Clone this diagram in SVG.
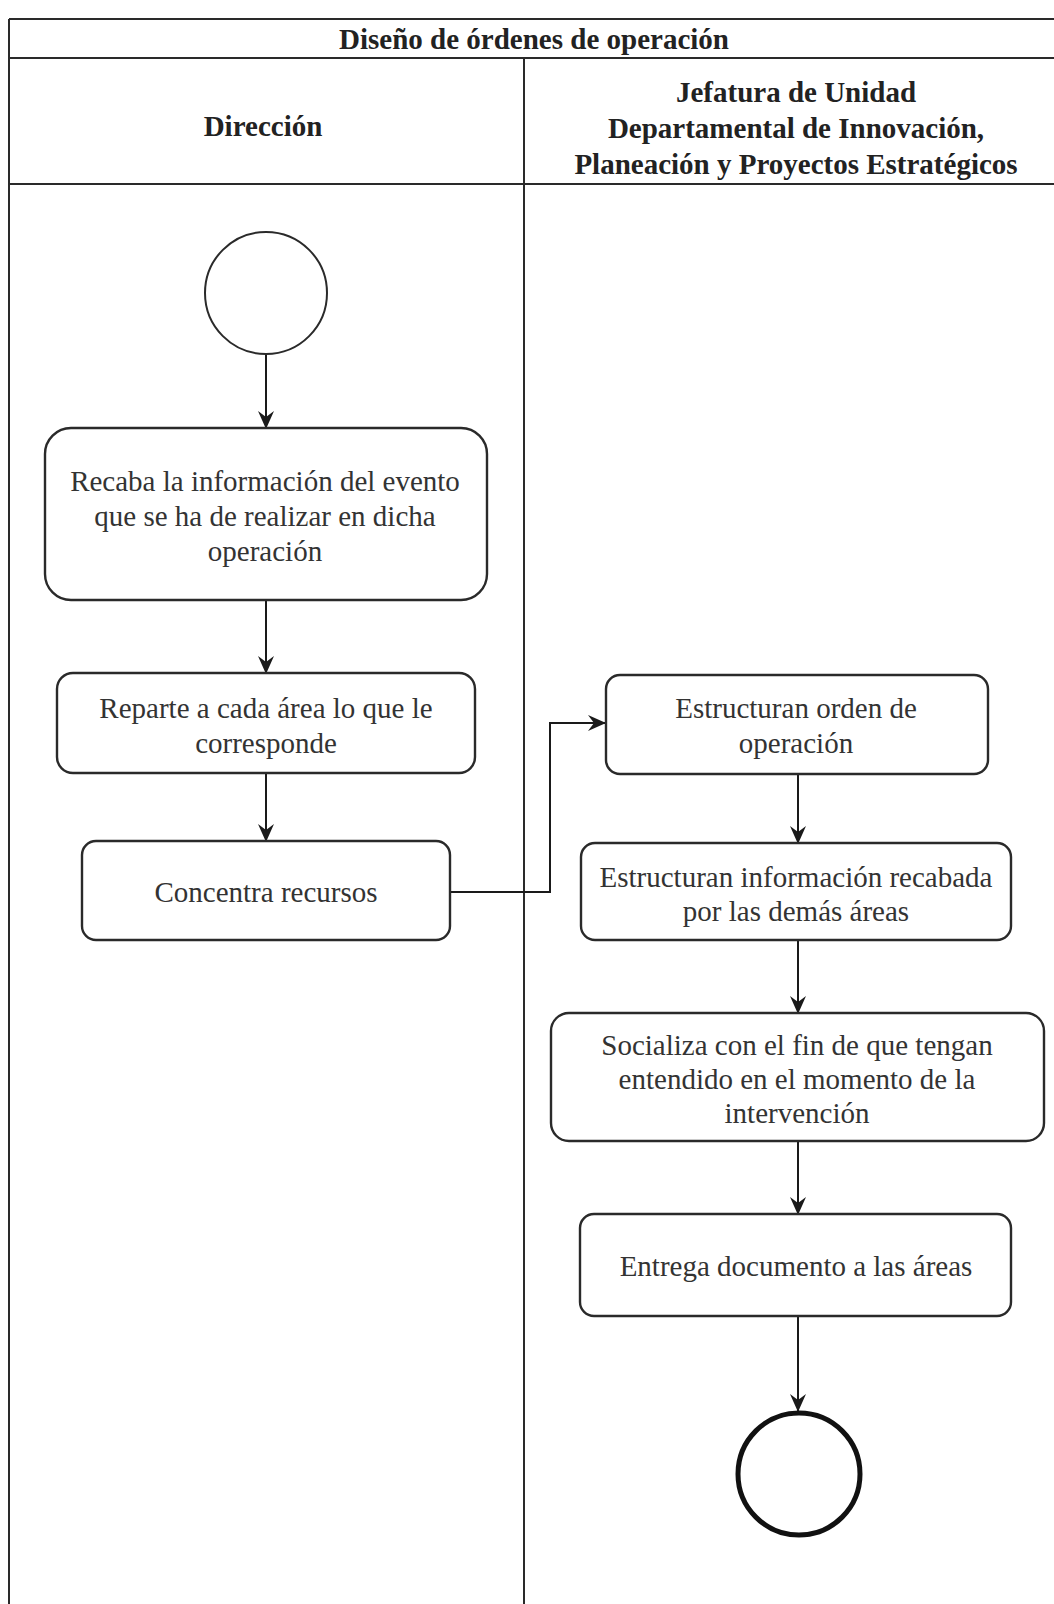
<svg xmlns="http://www.w3.org/2000/svg" width="1054" height="1604" viewBox="0 0 1054 1604">
<defs>
<marker id="ah" viewBox="0 0 18 18" refX="17" refY="9" markerWidth="18" markerHeight="18" markerUnits="userSpaceOnUse" orient="auto">
<path d="M0,1 L18,9 L0,17 L6,9 Z" fill="#1a1a1a"/>
</marker>
<style>
.lane{fill:none;stroke:#2a2a2a;stroke-width:2}
.hdr{font-family:"Liberation Serif",serif;font-weight:bold;font-size:29px;fill:#222;text-anchor:middle}
.box{fill:#fff;stroke:#2a2a2a;stroke-width:2.4}
.t{font-family:"Liberation Serif",serif;font-size:29px;fill:#333;text-anchor:middle}
.c{fill:none;stroke:#1a1a1a;stroke-width:2;marker-end:url(#ah)}
</style>
</defs>
<rect width="1054" height="1604" fill="#fff"/>
<g id="lanes">
<line class="lane" x1="9" y1="19" x2="1054" y2="19"/>
<line class="lane" x1="9" y1="19" x2="9" y2="1604"/>
<line class="lane" x1="9" y1="58" x2="1054" y2="58"/>
<line class="lane" x1="9" y1="184" x2="1054" y2="184"/>
<line class="lane" x1="524" y1="58" x2="524" y2="1604"/>
<text class="hdr" x="534" y="49">Diseño de órdenes de operación</text>
<text class="hdr" x="263" y="136">Dirección</text>
<text class="hdr" x="796" y="102">Jefatura de Unidad</text>
<text class="hdr" x="796" y="138">Departamental de Innovación,</text>
<text class="hdr" x="796" y="174">Planeación y Proyectos Estratégicos</text>
</g>
<g id="connectors">
<line class="c" x1="266" y1="354" x2="266" y2="428"/>
<line class="c" x1="266" y1="600" x2="266" y2="673"/>
<line class="c" x1="266" y1="773" x2="266" y2="841"/>
<polyline class="c" points="450,892 550,892 550,723 605,723"/>
<line class="c" x1="798" y1="774" x2="798" y2="843"/>
<line class="c" x1="798" y1="940" x2="798" y2="1013"/>
<line class="c" x1="798" y1="1141" x2="798" y2="1214"/>
<line class="c" x1="798" y1="1316" x2="798" y2="1411"/>
</g>
<g id="start"><circle cx="266" cy="293" r="61" fill="#fff" stroke="#2a2a2a" stroke-width="2"/></g>
<g id="n1"><rect class="box" x="45" y="428" width="442" height="172" rx="26"/>
<text class="t" x="265" y="491">Recaba la información del evento</text>
<text class="t" x="265" y="526">que se ha de realizar en dicha</text>
<text class="t" x="265" y="561">operación</text></g>
<g id="n2"><rect class="box" x="57" y="673" width="418" height="100" rx="16"/>
<text class="t" x="266" y="718">Reparte a cada área lo que le</text>
<text class="t" x="266" y="753">corresponde</text></g>
<g id="n3"><rect class="box" x="82" y="841" width="368" height="99" rx="14"/>
<text class="t" x="266" y="902">Concentra recursos</text></g>
<g id="n4"><rect class="box" x="606" y="675" width="382" height="99" rx="14"/>
<text class="t" x="796" y="718">Estructuran orden de</text>
<text class="t" x="796" y="753">operación</text></g>
<g id="n5"><rect class="box" x="581" y="843" width="430" height="97" rx="14"/>
<text class="t" x="796" y="887">Estructuran información recabada</text>
<text class="t" x="796" y="921">por las demás áreas</text></g>
<g id="n6"><rect class="box" x="551" y="1013" width="493" height="128" rx="18"/>
<text class="t" x="797" y="1055">Socializa con el fin de que tengan</text>
<text class="t" x="797" y="1089">entendido en el momento de la</text>
<text class="t" x="797" y="1123">intervención</text></g>
<g id="n7"><rect class="box" x="580" y="1214" width="431" height="102" rx="14"/>
<text class="t" x="796" y="1276">Entrega documento a las áreas</text></g>
<g id="end"><circle cx="799" cy="1474" r="61" fill="#fff" stroke="#111" stroke-width="5"/></g>
</svg>
